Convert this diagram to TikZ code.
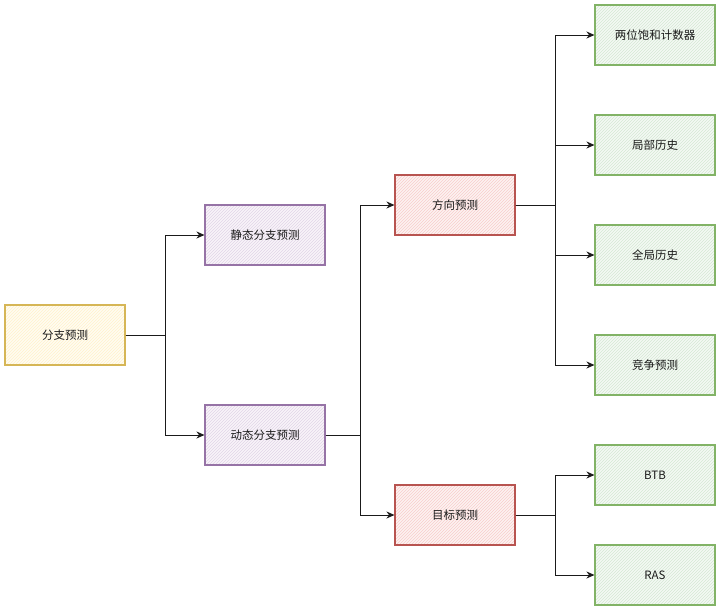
\documentclass[tikz,border=0pt]{standalone}
\usepackage{fontspec}
\setmainfont{Noto Sans CJK SC}
\usepackage{xcolor}
\usepackage{tikz}
\usetikzlibrary{arrows.meta,positioning,patterns}
\definecolor{cYellowF}{HTML}{FFF2CC}
\definecolor{cYellowD}{HTML}{D6B656}
\definecolor{cPurpleF}{HTML}{E1D5E7}
\definecolor{cPurpleD}{HTML}{9673A6}
\definecolor{cRedF}{HTML}{F8CECC}
\definecolor{cRedD}{HTML}{B85450}
\definecolor{cGreenF}{HTML}{D5E8D4}
\definecolor{cGreenD}{HTML}{82B366}
\definecolor{cInk}{HTML}{1A1A1A}
\tikzset{
  sketch/.style 2 args={draw=#2,line width=1.1pt,preaction={fill=#1!25},pattern=north east lines,pattern color=#1,
    minimum width=120pt,minimum height=60pt,inner sep=0pt,align=center,text=cInk,font=\fontsize{11.5}{14}\selectfont},
  ybox/.style={sketch={cYellowF}{cYellowD}},
  pbox/.style={sketch={cPurpleF}{cPurpleD}},
  rbox/.style={sketch={cRedF}{cRedD}},
  gbox/.style={sketch={cGreenF}{cGreenD}},
  arr/.style={-{Stealth[length=8pt,width=7pt]},line width=1pt,color=cInk},
}

\begin{document}
\begin{tikzpicture}[x=1pt,y=-1pt]
  \useasboundingbox (0,0) rectangle (721,611);
  % boxes
  \node[ybox] (root) at (65,335) {分支预测};
  \node[pbox] (static) at (265,235) {静态分支预测};
  \node[pbox] (dynamic) at (265,435) {动态分支预测};
  \node[rbox] (dir) at (455,205) {方向预测};
  \node[rbox] (tgt) at (455,515) {目标预测};
  \foreach \name/\y/\txt in {sat/35/两位饱和计数器, local/145/局部历史, global/255/全局历史, tour/365/竞争预测, btb/475/BTB, ras/575/RAS}
    \node[gbox] (\name) at (655,\y) {\txt};
  % connectors
  \foreach \dst in {static,dynamic} \draw[arr] (root.east) -- ++(40,0) |- (\dst.west);
  \foreach \dst in {dir,tgt} \draw[arr] (dynamic.east) -- ++(35,0) |- (\dst.west);
  \foreach \dst in {sat,local,global,tour} \draw[arr] (dir.east) -- ++(40,0) |- (\dst.west);
  \foreach \dst in {btb,ras} \draw[arr] (tgt.east) -- ++(40,0) |- (\dst.west);
\end{tikzpicture}
\end{document}
